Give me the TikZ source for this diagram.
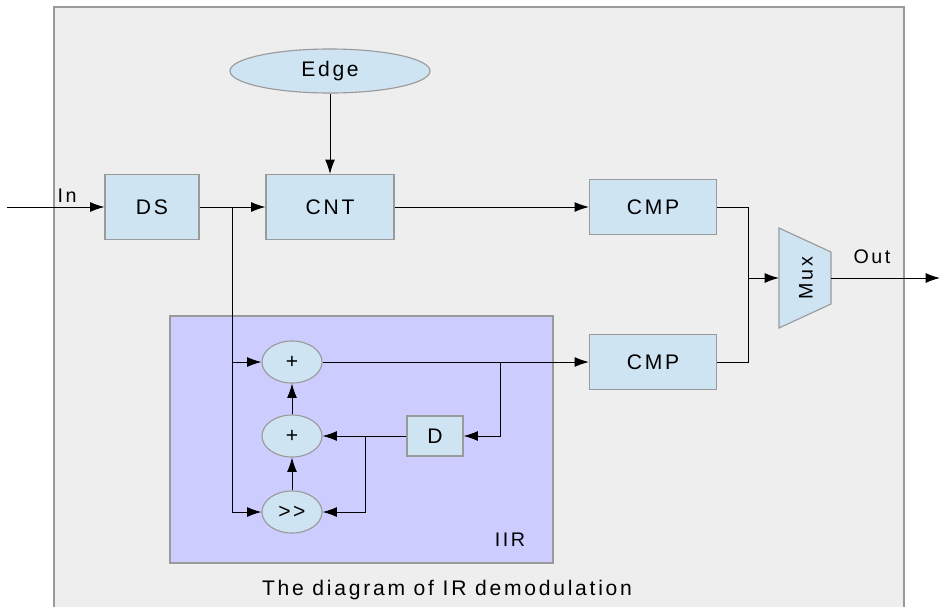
\documentclass[tikz,border=0pt]{standalone}
\usepackage{fontspec}
\setmainfont{Liberation Sans}[LetterSpace=13]
\usetikzlibrary{arrows.meta,shapes.geometric}
\definecolor{boxblue}{HTML}{CFE4F3}
\definecolor{boxline}{HTML}{9A9A9A}
\definecolor{framebg}{HTML}{EEEEEE}
\definecolor{iirbg}{HTML}{CCCCFF}
\tikzset{
  blk/.style={draw=boxline, fill=boxblue, line width=0.8pt, font=\fontsize{15}{18}\selectfont},
  oval/.style={ellipse, draw=boxline, fill=boxblue, line width=0.8pt, font=\fontsize{15}{18}\selectfont},
  arr/.style={-{Latex[length=3.6mm,width=2.5mm]}, line width=0.7pt},
  wire/.style={line width=0.7pt},
  lbl/.style={font=\fontsize{14}{17}\selectfont}
}

\begin{document}
\begin{tikzpicture}[x=0.025cm, y=-0.025cm]
                \useasboundingbox (0,0) rectangle (940,607);
                % outer frame
                \fill[framebg] (54,7) rectangle (904,607);
                \draw[boxline, line width=0.9pt] (54,607) -- (54,7) -- (904,7) -- (904,607);
                % IIR block
                \filldraw[fill=iirbg, draw=boxline, line width=0.9pt] (170,316) rectangle (553,563);
                \node[lbl] (iirlab) at (510,540) {IIR};

                \node[oval, minimum width=5cm, minimum height=1.1cm] (edge) at (330,71) {Edge};
                \node[blk, minimum width=2.35cm, minimum height=1.625cm] (ds) at (152,207) {DS};
                \node[blk, minimum width=3.2cm, minimum height=1.625cm] (cnt) at (330,207) {CNT};
                \node[blk, minimum width=3.175cm, minimum height=1.375cm] (cmpa) at (653,207) {CMP};
                \node[blk, minimum width=3.175cm, minimum height=1.375cm] (cmpb) at (653,362) {CMP};
                \node[oval, minimum width=1.5cm, minimum height=1.05cm, inner sep=0pt] (suma) at (292,362) {+};
                \node[oval, minimum width=1.5cm, minimum height=1.05cm, inner sep=0pt] (sumb) at (292,436) {+};
                \node[oval, minimum width=1.5cm, minimum height=1.05cm, inner sep=0pt] (shr) at (292,512) {>\kern0.12em>};
                \node[blk, minimum width=1.4cm, minimum height=1.0cm] (dly) at (435,436) {D};

                % mux
                \filldraw[fill=boxblue, draw=boxline, line width=0.8pt] (779,228) -- (831,252) -- (831,304) -- (779,328) -- cycle;
                \node[lbl, rotate=90] (mux) at (806,278) {Mux};
                \coordinate (muxin) at (779,278);
                \coordinate (muxout) at (831,278);

                % inputs and outputs
                \coordinate (inp) at (7,207);
                \coordinate (outp) at (940,278);
                \node[lbl] (inlab) at (67,196) {In};
                \node[lbl] (outlab) at (872,257) {Out};
                \coordinate (dsj) at (232,207);
                \coordinate (mj) at (748,278);
                \coordinate (fba) at (500,362);
                \coordinate (fbb) at (365,436);

                \draw[arr] (inp) -- (ds);
                \draw[arr] (ds) -- (cnt);
                \draw[arr] (edge) -- (cnt);
                \draw[arr] (cnt) -- (cmpa);
                \draw[wire] (cmpa) -| (mj);
                \draw[wire] (cmpb) -| (mj);
                \draw[arr] (mj) -- (muxin);
                \draw[arr] (muxout) -- (outp);

                \draw[arr] (dsj) |- (suma);
                \draw[arr] (dsj) |- (shr);
                \draw[arr] (suma) -- (cmpb);
                \draw[arr] (fba) |- (dly);
                \draw[arr] (dly) -- (sumb);
                \draw[arr] (fbb) |- (shr);
                \draw[arr] (shr) -- (sumb);
                \draw[arr] (sumb) -- (suma);

                \node[font=\fontsize{15}{18}\selectfont] (caption) at (447,590) {The diagram of IR demodulation};
            \end{tikzpicture}
\end{document}
